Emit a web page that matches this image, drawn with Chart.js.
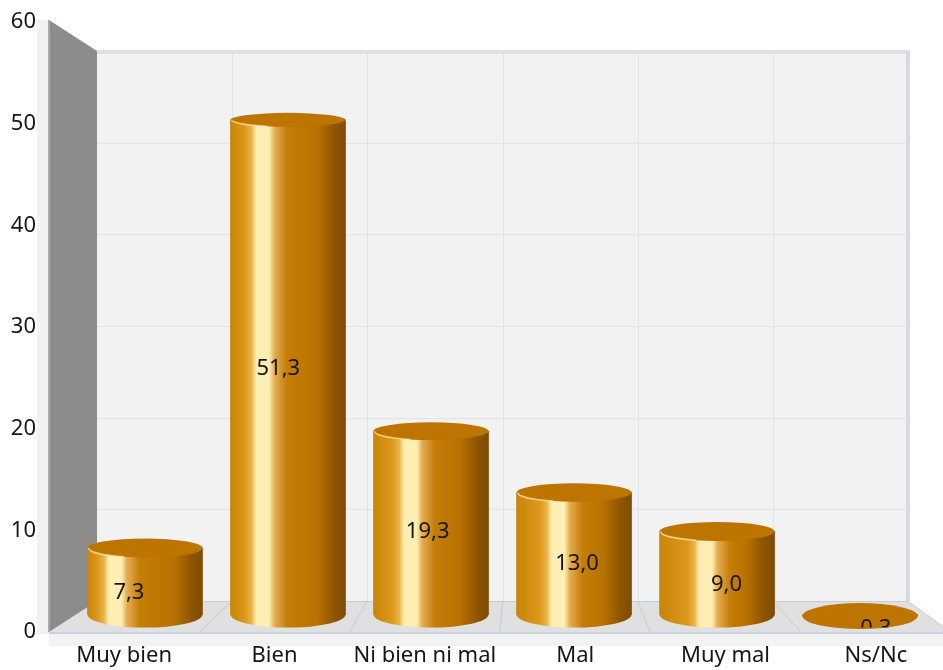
<!doctype html>
<html lang="es">
  <head>
    <meta charset="utf-8">
    <title>Valoración</title>
    <style>
      html, body {
        margin: 0;
        padding: 0;
        width: 943px;
        height: 670px;
        overflow: hidden;
        background: #fff;
      }
      canvas { display: block; }
    </style>
  </head>
  <body>
    <canvas id="myChart" width="960" height="670"></canvas>
    <script src="https://cdn.jsdelivr.net/npm/chart.js"></script>
    <script>
    const categories = ['Muy bien', 'Bien', 'Ni bien ni mal', 'Mal', 'Muy mal', 'Ns/Nc'];
    const values = [7.3, 51.3, 19.3, 13.0, 9.0, 0.3];
    const yTicks = [0, 10, 20, 30, 40, 50, 60];

    const FONT = '"Noto Sans", sans-serif';
    const TEXT = '#161616';
    const barWidth = 115;

    function cylinderFill(context) {
      const chart = context.chart;
      const left = chart.scales.xBar.getPixelForValue(context.dataIndex) - barWidth / 2;
      // scales have no pixels yet on the first pass
      if (!isFinite(left)) return '#c47d06';
      // the shine drifts right from bar to bar, as seen from the middle of the room
      const hl = 0.165 + 0.04 * context.dataIndex;
      const g = chart.ctx.createLinearGradient(left, 0, left + barWidth, 0);
      g.addColorStop(0, '#c98508');
      g.addColorStop(hl - 0.08, '#dc981c');
      g.addColorStop(hl - 0.02, '#eab54a');
      g.addColorStop(hl + 0.02, '#fdeeb4');
      g.addColorStop(hl + 0.13, '#fdeeb4');
      g.addColorStop(hl + 0.18, '#e4ac50');
      g.addColorStop(hl + 0.29, '#c47d06');
      g.addColorStop(0.75, '#b87200');
      g.addColorStop(0.9, '#8f5600');
      g.addColorStop(1, '#7f4b00');
      return g;
    }

    // walls and floor sit behind the bars, all hung from the scales
    const room = {
      id: 'room',
      beforeDatasetsDraw(chart) {
        const { ctx, scales } = chart;
        const fx = scales.xFront, fy = scales.yFront, by = scales.yBack;
        const frontL = fx.left, frontR = fx.right;
        const backL = frontL + 48, backR = frontR - 43;
        const top = by.getPixelForValue(60), floor = by.getPixelForValue(0);
        const frontTop = fy.getPixelForValue(60) - 2, frontBase = fy.getPixelForValue(0);
        const n = categories.length;
        ctx.save();

        ctx.fillStyle = '#f2f2f2';
        ctx.fillRect(frontL - 12, frontTop, 12, frontBase - frontTop + 2);
        ctx.fillRect(frontL, frontBase + 2, frontR - frontL, 12);

        // back wall
        ctx.fillRect(backL, top, backR - backL, floor - top);
        ctx.strokeStyle = '#e2e3e6';
        ctx.lineWidth = 1;
        yTicks.forEach(t => {
          if (t === 0 || t === 60) return;
          const y = Math.round(by.getPixelForValue(t)) + 0.5;
          ctx.beginPath(); ctx.moveTo(backL, y); ctx.lineTo(backR, y); ctx.stroke();
        });
        for (let i = 1; i < n; i++) {
          const x = Math.round(backL + i * (backR - backL) / n) + 0.5;
          ctx.beginPath(); ctx.moveTo(x, top); ctx.lineTo(x, floor); ctx.stroke();
        }
        ctx.fillStyle = '#dfdfe7';
        ctx.fillRect(backL, top - 1, backR - backL + 2, 4);
        ctx.fillStyle = '#d3dbe7';
        ctx.fillRect(backR - 2, top, 4, floor - top);

        // floor
        ctx.fillStyle = '#e0e0e0';
        ctx.beginPath();
        ctx.moveTo(frontL, frontBase); ctx.lineTo(backL, floor);
        ctx.lineTo(backR, floor); ctx.lineTo(frontR, frontBase);
        ctx.closePath(); ctx.fill();
        ctx.strokeStyle = '#c6ccd4';
        ctx.beginPath(); ctx.moveTo(backL, floor + 0.5); ctx.lineTo(backR, floor + 0.5); ctx.lineTo(frontR, frontBase); ctx.stroke();
        for (let i = 1; i < n; i++) {
          ctx.beginPath();
          ctx.moveTo(backL + i * (backR - backL) / n, floor);
          ctx.lineTo(frontL + i * (frontR - frontL) / n, frontBase);
          ctx.stroke();
        }
        ctx.fillStyle = '#ccd2da';
        ctx.fillRect(frontL, frontBase, frontR - frontL, 2);

        // left wall
        ctx.fillStyle = '#8c8c8c';
        ctx.beginPath();
        ctx.moveTo(frontL, frontTop); ctx.lineTo(backL, top);
        ctx.lineTo(backL, floor); ctx.lineTo(frontL, frontBase);
        ctx.closePath(); ctx.fill();
        ctx.fillStyle = '#a3abb6';
        ctx.fillRect(frontL - 1, frontTop, 2, frontBase - frontTop);
        ctx.restore();
      }
    };

    // round caps on the library's bars, then the value labels
    const cylinders = {
      id: 'cylinders',
      afterDatasetsDraw(chart) {
        const { ctx, scales } = chart;
        const meta = chart.getDatasetMeta(0);
        ctx.save();
        meta.data.forEach((bar, i) => {
          const { x, y, base, width } = bar.getProps(['x', 'y', 'base', 'width'], true);
          const rx = width / 2;
          const flat = base - y < 10;
          if (!flat) {
            ctx.fillStyle = bar.options.backgroundColor;
            ctx.beginPath();
            ctx.ellipse(x, base, rx, 13, 0, 0, Math.PI);
            ctx.fill();
          }
          const ry = flat ? 13 : 7 + (y - 120) * 0.006;
          ctx.fillStyle = '#bd7500';
          ctx.beginPath();
          ctx.ellipse(x, y, rx, ry, 0, 0, Math.PI * 2);
          ctx.fill();
          if (!flat) {
            ctx.strokeStyle = 'rgba(255, 232, 170, 0.75)';
            ctx.lineWidth = 1.5;
            ctx.beginPath();
            ctx.ellipse(x, y, rx - 1, ry, 0, Math.PI * 0.62, Math.PI);
            ctx.stroke();
          }
        });
        ctx.fillStyle = TEXT;
        ctx.font = '22px ' + FONT;
        ctx.textAlign = 'center';
        ctx.textBaseline = 'middle';
        meta.data.forEach((bar, i) => {
          ctx.save();
          ctx.beginPath();
          ctx.rect(0, 0, chart.width, bar.base + 13);
          ctx.clip();
          ctx.fillText(values[i].toFixed(1).replace('.', ','),
            scales.xLabel.getPixelForValue(i),
            scales.yFront.getPixelForValue(values[i] / 2) - 2);
          ctx.restore();
        });
        ctx.restore();
      }
    };

    new Chart(document.getElementById('myChart'), {
      type: 'bar',
      data: {
        labels: categories,
        datasets: [{
          data: values.map((v, i) => ({ x: i, y: v })),
          xAxisID: 'xBar',
          yAxisID: 'yBar',
          base: 0.45,
          barThickness: barWidth,
          backgroundColor: cylinderFill,
          borderWidth: 0
        }]
      },
      options: {
        responsive: false,
        animation: false,
        layout: { padding: { top: 22, right: 9, left: 0, bottom: 0 } },
        plugins: { legend: { display: false }, tooltip: { enabled: false } },
        scales: {
          xFront: {
            axis: 'x', type: 'category', position: 'bottom', offset: true,
            grid: { display: false, drawTicks: false }, border: { display: false },
            ticks: { color: TEXT, font: { family: FONT, size: 22 }, padding: 11, maxRotation: 0, autoSkip: false, z: 1 },
            afterFit(s) { s.height = 38; }
          },
          xBar: { axis: 'x', type: 'linear', position: 'bottom', display: false, offset: false, min: -0.671, max: 5.636 },
          xLabel: { axis: 'x', type: 'linear', position: 'bottom', display: false, offset: false, min: -0.535, max: 5.503 },
          yFront: {
            axis: 'y', type: 'linear', position: 'left', min: 0, max: 60,
            grid: { display: false, drawTicks: false }, border: { display: false },
            ticks: { color: TEXT, font: { family: FONT, size: 22 }, stepSize: 10, padding: 13, z: 1 },
            afterFit(s) { s.width = 49; s.paddingTop = 0; s.paddingBottom = 0; }
          },
          yBar: { axis: 'y', type: 'linear', position: 'left', display: false, min: -1.336, max: 61.356 },
          yBack: { axis: 'y', type: 'linear', position: 'left', display: false, min: -3.382, max: 63.16 }
        }
      },
      plugins: [room, cylinders]
    });
    </script>
  </body>
</html>
